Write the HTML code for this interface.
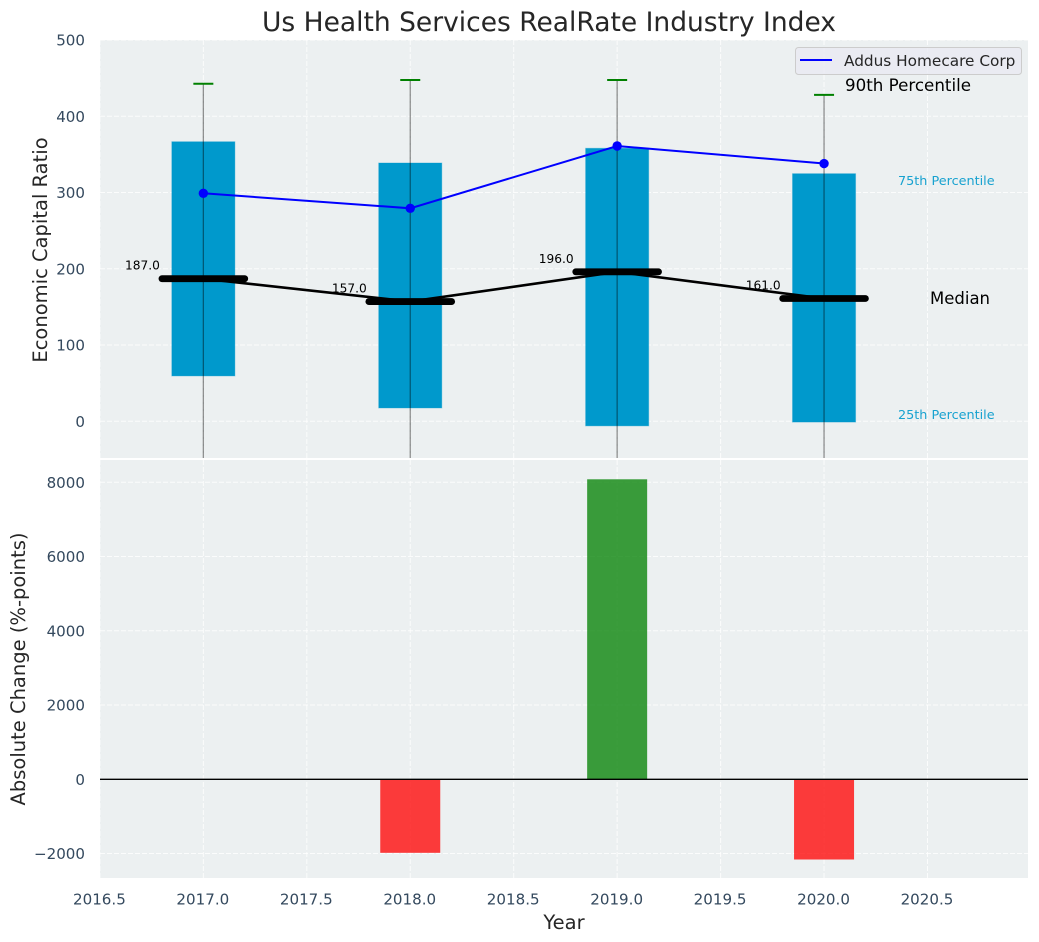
<!DOCTYPE html>
<html lang="en">
<head>
<meta charset="utf-8">
<title>Us Health Services RealRate Industry Index</title>
<style>
html,body{margin:0;padding:0;background:#fff;}
svg{display:block;font-family:"DejaVu Sans","Liberation Sans",sans-serif;}
</style>
</head>
<body>
<svg id="chart" xmlns="http://www.w3.org/2000/svg" width="1039" height="942" viewBox="0 0 1039 942">
  <defs>
    <clipPath id="top-clip"><rect x="100" y="40" width="928" height="418"/></clipPath>
    <clipPath id="bottom-clip"><rect x="100" y="460" width="928" height="418"/></clipPath>
  </defs>
  <rect width="1039" height="942" fill="#ffffff"/>
  <rect x="100" y="40" width="928" height="418" fill="#ecf0f1"/>
  <rect x="100" y="460" width="928" height="418" fill="#ecf0f1"/>
  <g id="top-grid" clip-path="url(#top-clip)"></g>
  <g id="bottom-grid" clip-path="url(#bottom-clip)"></g>
  <g id="top-marks" clip-path="url(#top-clip)"></g>
  <g id="bottom-marks" clip-path="url(#bottom-clip)"></g>
  <g id="tick-labels"></g>

  <text x="549" y="31" font-size="26.5px" fill="#262626" text-anchor="middle">Us Health Services RealRate Industry Index</text>
  <text transform="translate(47,250) rotate(-90)" font-size="19.5px" fill="#262626" text-anchor="middle">Economic Capital Ratio</text>
  <text transform="translate(25,669) rotate(-90)" font-size="19.5px" fill="#262626" text-anchor="middle">Absolute Change (%-points)</text>
  <text x="564" y="929" font-size="19.5px" fill="#262626" text-anchor="middle">Year</text>

  <text x="845" y="91" font-size="16.7px" fill="#000000">90th Percentile</text>
  <text x="898" y="185" font-size="12.8px" fill="#0099cc" fill-opacity="0.9">75th Percentile</text>
  <text x="898" y="419" font-size="12.8px" fill="#0099cc" fill-opacity="0.9">25th Percentile</text>
  <text x="930" y="304" font-size="16.5px" fill="#000000">Median</text>

  <g>
    <rect x="795.5" y="47.5" width="226" height="27" rx="3" fill="#eaeaf2" fill-opacity="0.8" stroke="#cccccc"/>
    <line x1="800" x2="832" y1="60" y2="60" stroke="#0000ff" stroke-width="2"/>
    <text x="844" y="66" font-size="15.3px" fill="#262626">Addus Homecare Corp</text>
  </g>
</svg>
<script>
const years = [2017, 2018, 2019, 2020];
const p90 = [442.7, 447.5, 447.5, 428];
const p75 = [366.6, 338.7, 358, 324.7];
const median = [187, 157, 196, 161];
const p25 = [59.5, 17.5, -6, -1];
const p10 = [-100, -90, -150, -120];
const company = [299, 279.3, 361, 338];
const change = [0, -1980, 8080, -2160];
const xTicks = [2016.5, 2017, 2017.5, 2018, 2018.5, 2019, 2019.5, 2020, 2020.5];
const topYTicks = [0, 100, 200, 300, 400, 500];
const bottomYTicks = [-2000, 0, 2000, 4000, 6000, 8000];

const NS = 'http://www.w3.org/2000/svg';
const xPos = v => 99.9 + (v - 2016.5) * 206.9;
const yTop = v => 421.3 - v * 0.7626;
const yBottom = v => 779.3 - v * 0.03713;
const xLen = v => v * 206.9;

function add(parentId, tag, attrs, text) {
  const node = document.createElementNS(NS, tag);
  for (const k in attrs) node.setAttribute(k, attrs[k]);
  if (text !== undefined) node.textContent = text;
  document.getElementById(parentId).appendChild(node);
  return node;
}

const gridStyle = {stroke: '#ffffff', 'stroke-width': 1, 'stroke-dasharray': '5 2', 'stroke-opacity': 0.8};

xTicks.forEach(t => {
  const a = add('top-grid', 'line', Object.assign({x1: xPos(t), x2: xPos(t), y1: 40, y2: 458}, gridStyle));
  
  
  const b = add('bottom-grid', 'line', Object.assign({x1: xPos(t), x2: xPos(t), y1: 460, y2: 878}, gridStyle));
  
  
  const label = add('tick-labels', 'text', {x: xPos(t) - 0.5, y: 904.5, 'font-size': '15.1px', fill: '#34495e', 'text-anchor': 'middle'}, t.toFixed(1));
  
  
});

topYTicks.forEach(t => {
  const g = add('top-grid', 'line', Object.assign({x1: 100, x2: 1028, y1: yTop(t), y2: yTop(t)}, gridStyle));
  
  
  const label = add('tick-labels', 'text', {x: 85, y: yTop(t) + 5.5, 'font-size': '15.1px', fill: '#34495e', 'text-anchor': 'end'}, String(t));
  
  
});

bottomYTicks.forEach(t => {
  const g = add('bottom-grid', 'line', Object.assign({x1: 100, x2: 1028, y1: yBottom(t), y2: yBottom(t)}, gridStyle));
  
  
  const label = add('tick-labels', 'text', {x: 85, y: yBottom(t) + 5.5, 'font-size': '15.1px', fill: '#34495e', 'text-anchor': 'end'}, String(t).replace('-', '\u2212'));
  
  
});

/* Percentile boxes */
years.forEach((yr, i) => {
  const bar = add('top-marks', 'rect', {
    x: xPos(yr) - xLen(0.15) - 0.5, width: xLen(0.3) + 1,
    y: yTop(p75[i]), height: yTop(p25[i]) - yTop(p75[i]),
    fill: '#0099cc', stroke: '#0099cc', 'stroke-opacity': 0.35, 'stroke-width': 1
  });
  
  
});

/* Median value labels sit beneath the median line */
years.forEach((yr, i) => {
  const label = add('top-marks', 'text', {
    x: xPos(yr) - xLen(0.21), y: yTop(median[i]) - 9,
    'font-size': '12.2px', fill: '#000000', 'text-anchor': 'end'
  }, median[i].toFixed(1));
  
  
});

/* Median connecting line */
const medianLine = add('top-marks', 'polyline', {
  points: years.map((yr, i) => xPos(yr) + ',' + yTop(median[i])).join(' '),
  fill: 'none', stroke: '#000000', 'stroke-width': 2.6
});



/* Median ticks */
years.forEach((yr, i) => {
  const tick = add('top-marks', 'line', {
    x1: xPos(yr) - xLen(0.2), x2: xPos(yr) + xLen(0.2),
    y1: yTop(median[i]), y2: yTop(median[i]),
    stroke: '#000000', 'stroke-width': 6.8, 'stroke-linecap': 'round'
  });
  
  
});

/* Company line */
const companyLine = add('top-marks', 'polyline', {
  points: years.map((yr, i) => xPos(yr) + ',' + yTop(company[i])).join(' '),
  fill: 'none', stroke: '#0000ff', 'stroke-width': 2
});



/* Whiskers, caps, points */
years.forEach((yr, i) => {
  const whisker = add('top-marks', 'line', {
    x1: xPos(yr), x2: xPos(yr), y1: yTop(p90[i]), y2: yTop(p10[i]),
    stroke: '#000000', 'stroke-opacity': 0.42, 'stroke-width': 1.3
  });
  
  
  const cap = add('top-marks', 'line', {
    x1: xPos(yr) - 10, x2: xPos(yr) + 10, y1: yTop(p90[i]), y2: yTop(p90[i]),
    stroke: '#008000', 'stroke-width': 2
  });
  
  
  const dot = add('top-marks', 'circle', {cx: xPos(yr), cy: yTop(company[i]), r: 4.7, fill: '#0000ff'});
  
  
});

/* Change bars */
years.forEach((yr, i) => {
  if (!change[i]) return;
  const top = Math.min(yBottom(change[i]), yBottom(0));
  const h = Math.abs(yBottom(change[i]) - yBottom(0));
  const bar = add('bottom-marks', 'rect', {
    x: xPos(yr) - xLen(0.145), width: xLen(0.29), y: top, height: h,
    fill: change[i] > 0 ? '#008000' : '#ff0000', 'fill-opacity': 0.76
  });
  
  
});

const zeroLine = add('bottom-marks', 'line', {x1: 100, x2: 1028, y1: yBottom(0), y2: yBottom(0), stroke: '#000000', 'stroke-width': 1.4});


</script>
</body>
</html>
